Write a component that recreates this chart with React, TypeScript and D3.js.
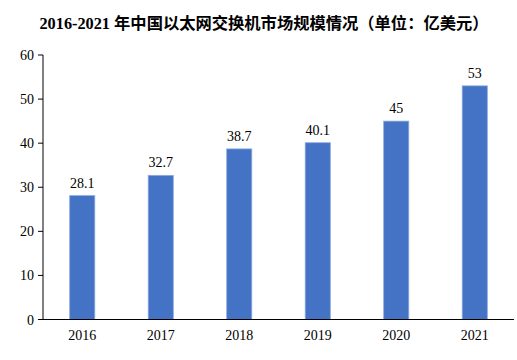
import React from "react";
import * as d3 from "d3";

const years = ["2016", "2017", "2018", "2019", "2020", "2021"];
const values = [28.1, 32.7, 38.7, 40.1, 45, 53];
const yTicks = [0, 10, 20, 30, 40, 50, 60];
const title = "2016-2021 年中国以太网交换机市场规模情况（单位：亿美元）";

const W = 517, H = 360;
const left = 43, right = 514, top = 55, bottom = 319.5;
const serif = "'Liberation Serif', 'Times New Roman', serif";

export default function App() {
  const x = d3.scaleBand<string>().domain(years).range([left, right]).paddingInner(0.68).paddingOuter(0.34);
  const y = d3.scaleLinear().domain([0, 60]).range([bottom, top]);
  return (
    <svg width={W} height={H} style={{ position: "absolute", left: 0, top: 0 }}>
      <rect width={W} height={H} fill="#fff" />
      <text x={264} y={29} textAnchor="middle" fontSize={16.3} fontWeight="bold"
        fontFamily="'Liberation Serif', 'Noto Sans CJK SC', sans-serif" fill="#000">
        {title}
      </text>
      {values.map((v, i) => (
        <g key={years[i]}>
          <rect x={x(years[i])!} y={y(v)} width={x.bandwidth()} height={bottom - y(v)}
            fill="#4472C4" stroke="#8eaae0" strokeWidth={0.8} />
          <text x={x(years[i])! + x.bandwidth() / 2} y={y(v) - 8} textAnchor="middle"
            fontSize={14} fontFamily={serif} fill="#000">{v}</text>
        </g>
      ))}
      <line x1={left} x2={left} y1={top} y2={bottom} stroke="#000" strokeWidth={1} />
      <line x1={left} x2={right} y1={bottom} y2={bottom} stroke="#000" strokeWidth={1} />
      {yTicks.map((t) => (
        <g key={t}>
          <line x1={left - 5} x2={left} y1={y(t)} y2={y(t)} stroke="#000" strokeWidth={1} />
          <text x={left - 9} y={y(t) + 5} textAnchor="end" fontSize={14} fontFamily={serif} fill="#000">{t}</text>
        </g>
      ))}
      {years.map((yr) => (
        <text key={yr} x={x(yr)! + x.bandwidth() / 2} y={bottom + 20} textAnchor="middle"
          fontSize={14} fontFamily={serif} fill="#000">{yr}</text>
      ))}
    </svg>
  );
}
